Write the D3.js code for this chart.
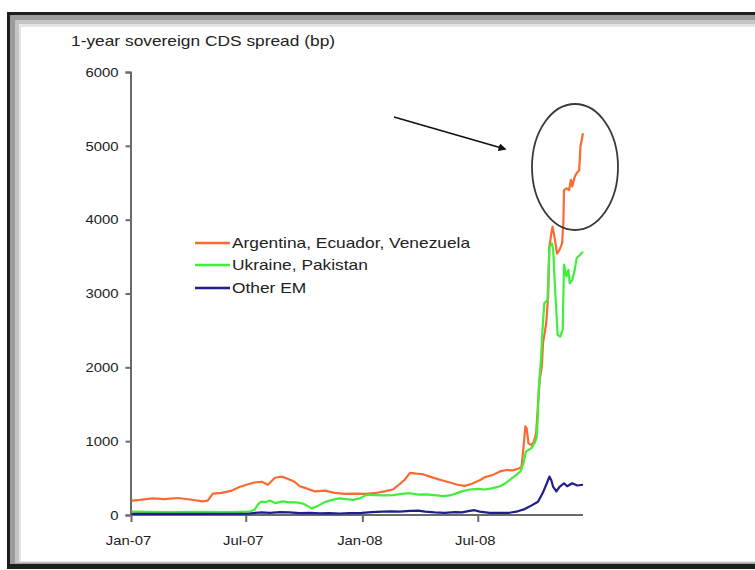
<!DOCTYPE html>
<html>
<head>
<meta charset="utf-8">
<script src="https://cdn.jsdelivr.net/npm/d3@7"></script>
<style>
  html, body { margin: 0; padding: 0; background: #fff; }
  svg { display: block; }
  text { font-family: "Liberation Sans", Arial, sans-serif; fill: #222; }
</style>
</head>
<body>
<svg id="chart" width="755" height="570"></svg>
<script>
// 1-year sovereign CDS spreads (bp), by country group
const seriesNames = ["Argentina, Ecuador, Venezuela", "Ukraine, Pakistan", "Other EM"];
const seriesColors = ["#fb6a30", "#3ef03a", "#1c1f8c"];

const argEcuVen = [
  ["2007-01-02",194],["2007-01-15",205],["2007-02-04",226],["2007-02-23",215],["2007-03-16",230],
  ["2007-04-04",210],["2007-04-24",185],["2007-05-02",195],["2007-05-10",290],["2007-05-24",300],
  ["2007-06-09",330],["2007-06-21",380],["2007-07-02",410],["2007-07-15",440],["2007-07-26",450],
  ["2007-08-05",410],["2007-08-16",505],["2007-08-27",520],["2007-09-05",490],["2007-09-16",450],
  ["2007-09-24",390],["2007-10-05",360],["2007-10-18",320],["2007-11-03",330],["2007-11-18",300],
  ["2007-12-04",285],["2007-12-20",290],["2008-01-05",285],["2008-01-20",295],["2008-02-05",320],
  ["2008-02-18",345],["2008-02-29",420],["2008-03-08",480],["2008-03-16",570],["2008-03-26",560],
  ["2008-04-04",555],["2008-04-13",530],["2008-04-24",500],["2008-05-05",470],["2008-05-18",440],
  ["2008-05-30",410],["2008-06-10",395],["2008-06-21",420],["2008-07-04",470],["2008-07-13",515],
  ["2008-07-24",540],["2008-08-05",590],["2008-08-16",610],["2008-08-25",605],["2008-09-04",630],
  ["2008-09-08",650],["2008-09-11",900],["2008-09-14",1200],["2008-09-16",1180],["2008-09-19",970],
  ["2008-09-23",950],["2008-09-27",980],["2008-10-01",1100],["2008-10-04",1500],["2008-10-07",1850],
  ["2008-10-10",2010],["2008-10-12",2330],["2008-10-17",2600],["2008-10-20",2960],["2008-10-22",3630],
  ["2008-10-25",3815],["2008-10-27",3905],["2008-10-30",3770],["2008-11-03",3540],["2008-11-07",3590],
  ["2008-11-11",3680],["2008-11-13",3950],["2008-11-14",4400],["2008-11-18",4425],["2008-11-22",4400],
  ["2008-11-25",4540],["2008-11-27",4450],["2008-12-01",4580],["2008-12-04",4630],["2008-12-08",4670],
  ["2008-12-10",4990],["2008-12-14",5170]
];

const ukrPak = [
  ["2007-01-02",45],["2007-02-23",40],["2007-04-19",42],["2007-06-06",40],["2007-07-07",45],
  ["2007-07-15",70],["2007-07-20",140],["2007-07-25",180],["2007-08-02",175],["2007-08-08",195],
  ["2007-08-17",160],["2007-08-28",185],["2007-09-08",170],["2007-09-19",170],["2007-09-29",155],
  ["2007-10-07",120],["2007-10-13",90],["2007-10-22",120],["2007-11-03",175],["2007-11-14",205],
  ["2007-11-26",225],["2007-12-07",215],["2007-12-17",205],["2007-12-28",225],["2008-01-08",275],
  ["2008-01-20",270],["2008-02-05",265],["2008-02-18",270],["2008-03-03",285],["2008-03-16",295],
  ["2008-03-29",275],["2008-04-10",280],["2008-04-24",270],["2008-05-07",255],["2008-05-18",265],
  ["2008-05-27",290],["2008-06-06",320],["2008-06-18",345],["2008-07-01",355],["2008-07-12",345],
  ["2008-07-23",360],["2008-08-05",390],["2008-08-14",430],["2008-08-24",500],["2008-09-01",550],
  ["2008-09-07",600],["2008-09-11",700],["2008-09-15",860],["2008-09-19",880],["2008-09-24",910],
  ["2008-09-29",980],["2008-10-02",1050],["2008-10-04",1380],["2008-10-05",1690],["2008-10-09",2145],
  ["2008-10-11",2500],["2008-10-14",2870],["2008-10-19",2910],["2008-10-22",3630],["2008-10-26",3680],
  ["2008-10-28",3590],["2008-10-31",3050],["2008-11-03",2600],["2008-11-04",2440],["2008-11-08",2415],
  ["2008-11-12",2510],["2008-11-14",3390],["2008-11-18",3230],["2008-11-21",3320],["2008-11-23",3140],
  ["2008-11-27",3180],["2008-12-01",3320],["2008-12-04",3480],["2008-12-09",3520],["2008-12-14",3565]
];

const otherEM = [
  ["2007-01-02",15],["2007-04-19",15],["2007-07-07",18],["2007-07-16",30],["2007-07-26",35],
  ["2007-08-08",30],["2007-08-24",40],["2007-09-08",35],["2007-09-24",25],["2007-10-10",30],
  ["2007-10-26",22],["2007-11-10",25],["2007-11-26",20],["2007-12-12",25],["2007-12-31",30],
  ["2008-01-16",40],["2008-02-01",45],["2008-02-16",50],["2008-02-29",45],["2008-03-16",55],
  ["2008-03-29",60],["2008-04-09",45],["2008-04-24",35],["2008-05-10",30],["2008-05-26",40],
  ["2008-06-06",35],["2008-06-18",55],["2008-06-26",65],["2008-07-04",45],["2008-07-20",30],
  ["2008-08-05",28],["2008-08-20",30],["2008-09-02",50],["2008-09-13",80],["2008-09-24",130],
  ["2008-10-04",180],["2008-10-11",290],["2008-10-18",430],["2008-10-22",520],["2008-10-25",470],
  ["2008-10-28",380],["2008-11-02",320],["2008-11-07",380],["2008-11-14",430],["2008-11-19",390],
  ["2008-11-27",430],["2008-12-05",400],["2008-12-14",410]
];

const yTicks = [0, 1000, 2000, 3000, 4000, 5000, 6000];
const xTickDates = ["2007-01-01", "2007-07-01", "2008-01-01", "2008-07-01"];
const xTickLabels = ["Jan-07", "Jul-07", "Jan-08", "Jul-08"];
const titleText = "1-year sovereign CDS spread (bp)";

const parse = d3.timeParse("%Y-%m-%d");
const TEXT_SX = 1.24; // glyphs in this chart are set wide

const svg = d3.select("#chart");

// window-style frame around the chart
svg.append("rect").attr("x", 7).attr("y", 12).attr("width", 800).attr("height", 557).attr("fill", "#1e1e1e");
svg.append("rect").attr("x", 10).attr("y", 15).attr("width", 800).attr("height", 549).attr("fill", "#9c9c9c");
svg.append("rect").attr("x", 15).attr("y", 20).attr("width", 800).attr("height", 543).attr("fill", "#c4c4c4");
svg.append("rect").attr("x", 19).attr("y", 24).attr("width", 800).attr("height", 538).attr("fill", "#e4e4e4");
svg.append("rect").attr("x", 21).attr("y", 27).attr("width", 800).attr("height", 534).attr("fill", "#ffffff");

const x = d3.scaleTime()
  .domain([parse("2007-01-01"), parse("2008-12-14")])
  .range([131, 583]);
const y = d3.scaleLinear().domain([0, 6000]).range([515, 72]);

function wideText(g, tx, ty, str, size, anchor) {
  return g.append("text")
    .attr("transform", `translate(${tx},${ty}) scale(${TEXT_SX},1)`)
    .attr("font-size", size)
    .attr("text-anchor", anchor || "start")
    .text(str);
}

// title
wideText(svg, 71, 46, titleText, 14);

// y axis
const yAxis = svg.append("g")
  .attr("transform", "translate(130.5,0)")
  .call(d3.axisLeft(y).tickValues(yTicks).tickSize(5).tickFormat(d3.format("d")));
yAxis.select(".domain").attr("stroke", "#6a6a6a").attr("stroke-width", 2);
yAxis.selectAll(".tick line").attr("stroke", "#6a6a6a").attr("stroke-width", 2);
yAxis.selectAll(".tick text")
  .attr("x", null).attr("dy", "0.36em")
  .attr("transform", `translate(-12,0) scale(${TEXT_SX},1)`)
  .attr("font-size", 12).attr("font-family", "Liberation Sans, Arial, sans-serif")
  .attr("fill", "#333");

// x axis
const xAxis = svg.append("g")
  .attr("transform", "translate(0,515)")
  .call(d3.axisBottom(x)
    .tickValues(xTickDates.map(parse))
    .tickSize(7)
    .tickFormat((d, i) => xTickLabels[i]));
xAxis.select(".domain").attr("stroke", "#6a6a6a").attr("stroke-width", 2)
  .attr("d", `M${x.range()[0]},0H${x.range()[1]}`);
xAxis.selectAll(".tick line").attr("stroke", "#6a6a6a").attr("stroke-width", 2);
xAxis.selectAll(".tick text")
  .attr("y", null).attr("dy", null)
  .attr("transform", `translate(-3,30) scale(${TEXT_SX},1)`)
  .attr("font-size", 12).attr("font-family", "Liberation Sans, Arial, sans-serif")
  .attr("fill", "#333");

// series lines
const line = d3.line()
  .x(d => x(parse(d[0])))
  .y(d => y(d[1]));

const allSeries = [argEcuVen, ukrPak, otherEM];
const drawOrder = [0, 1, 2];
drawOrder.forEach(i => {
  svg.append("path")
    .datum(allSeries[i])
    .attr("fill", "none")
    .attr("stroke", seriesColors[i])
    .attr("stroke-width", 2.2)
    .attr("stroke-linejoin", "round")
    .attr("d", line);
});

// legend
const legendY = [243, 265, 288];
seriesNames.forEach((name, i) => {
  svg.append("line")
    .attr("x1", 195).attr("x2", 230)
    .attr("y1", legendY[i]).attr("y2", legendY[i])
    .attr("stroke", seriesColors[i]).attr("stroke-width", 2.5);
  wideText(svg, 232, legendY[i] + 5, name, 14);
});

// annotation: arrow pointing at the circled spike
svg.append("defs").append("marker")
  .attr("id", "arrowHead")
  .attr("viewBox", "0 0 10 10")
  .attr("refX", 8).attr("refY", 5)
  .attr("markerWidth", 5).attr("markerHeight", 5)
  .attr("orient", "auto")
  .append("path").attr("d", "M0,0L10,5L0,10z").attr("fill", "#111");

svg.append("line")
  .attr("x1", 394).attr("y1", 117)
  .attr("x2", 505).attr("y2", 149)
  .attr("stroke", "#111").attr("stroke-width", 1.6)
  .attr("marker-end", "url(#arrowHead)");

svg.append("ellipse")
  .attr("cx", 575).attr("cy", 167)
  .attr("rx", 43).attr("ry", 63)
  .attr("fill", "none")
  .attr("stroke", "#3a3a3a").attr("stroke-width", 1.8);
</script>
</body>
</html>
